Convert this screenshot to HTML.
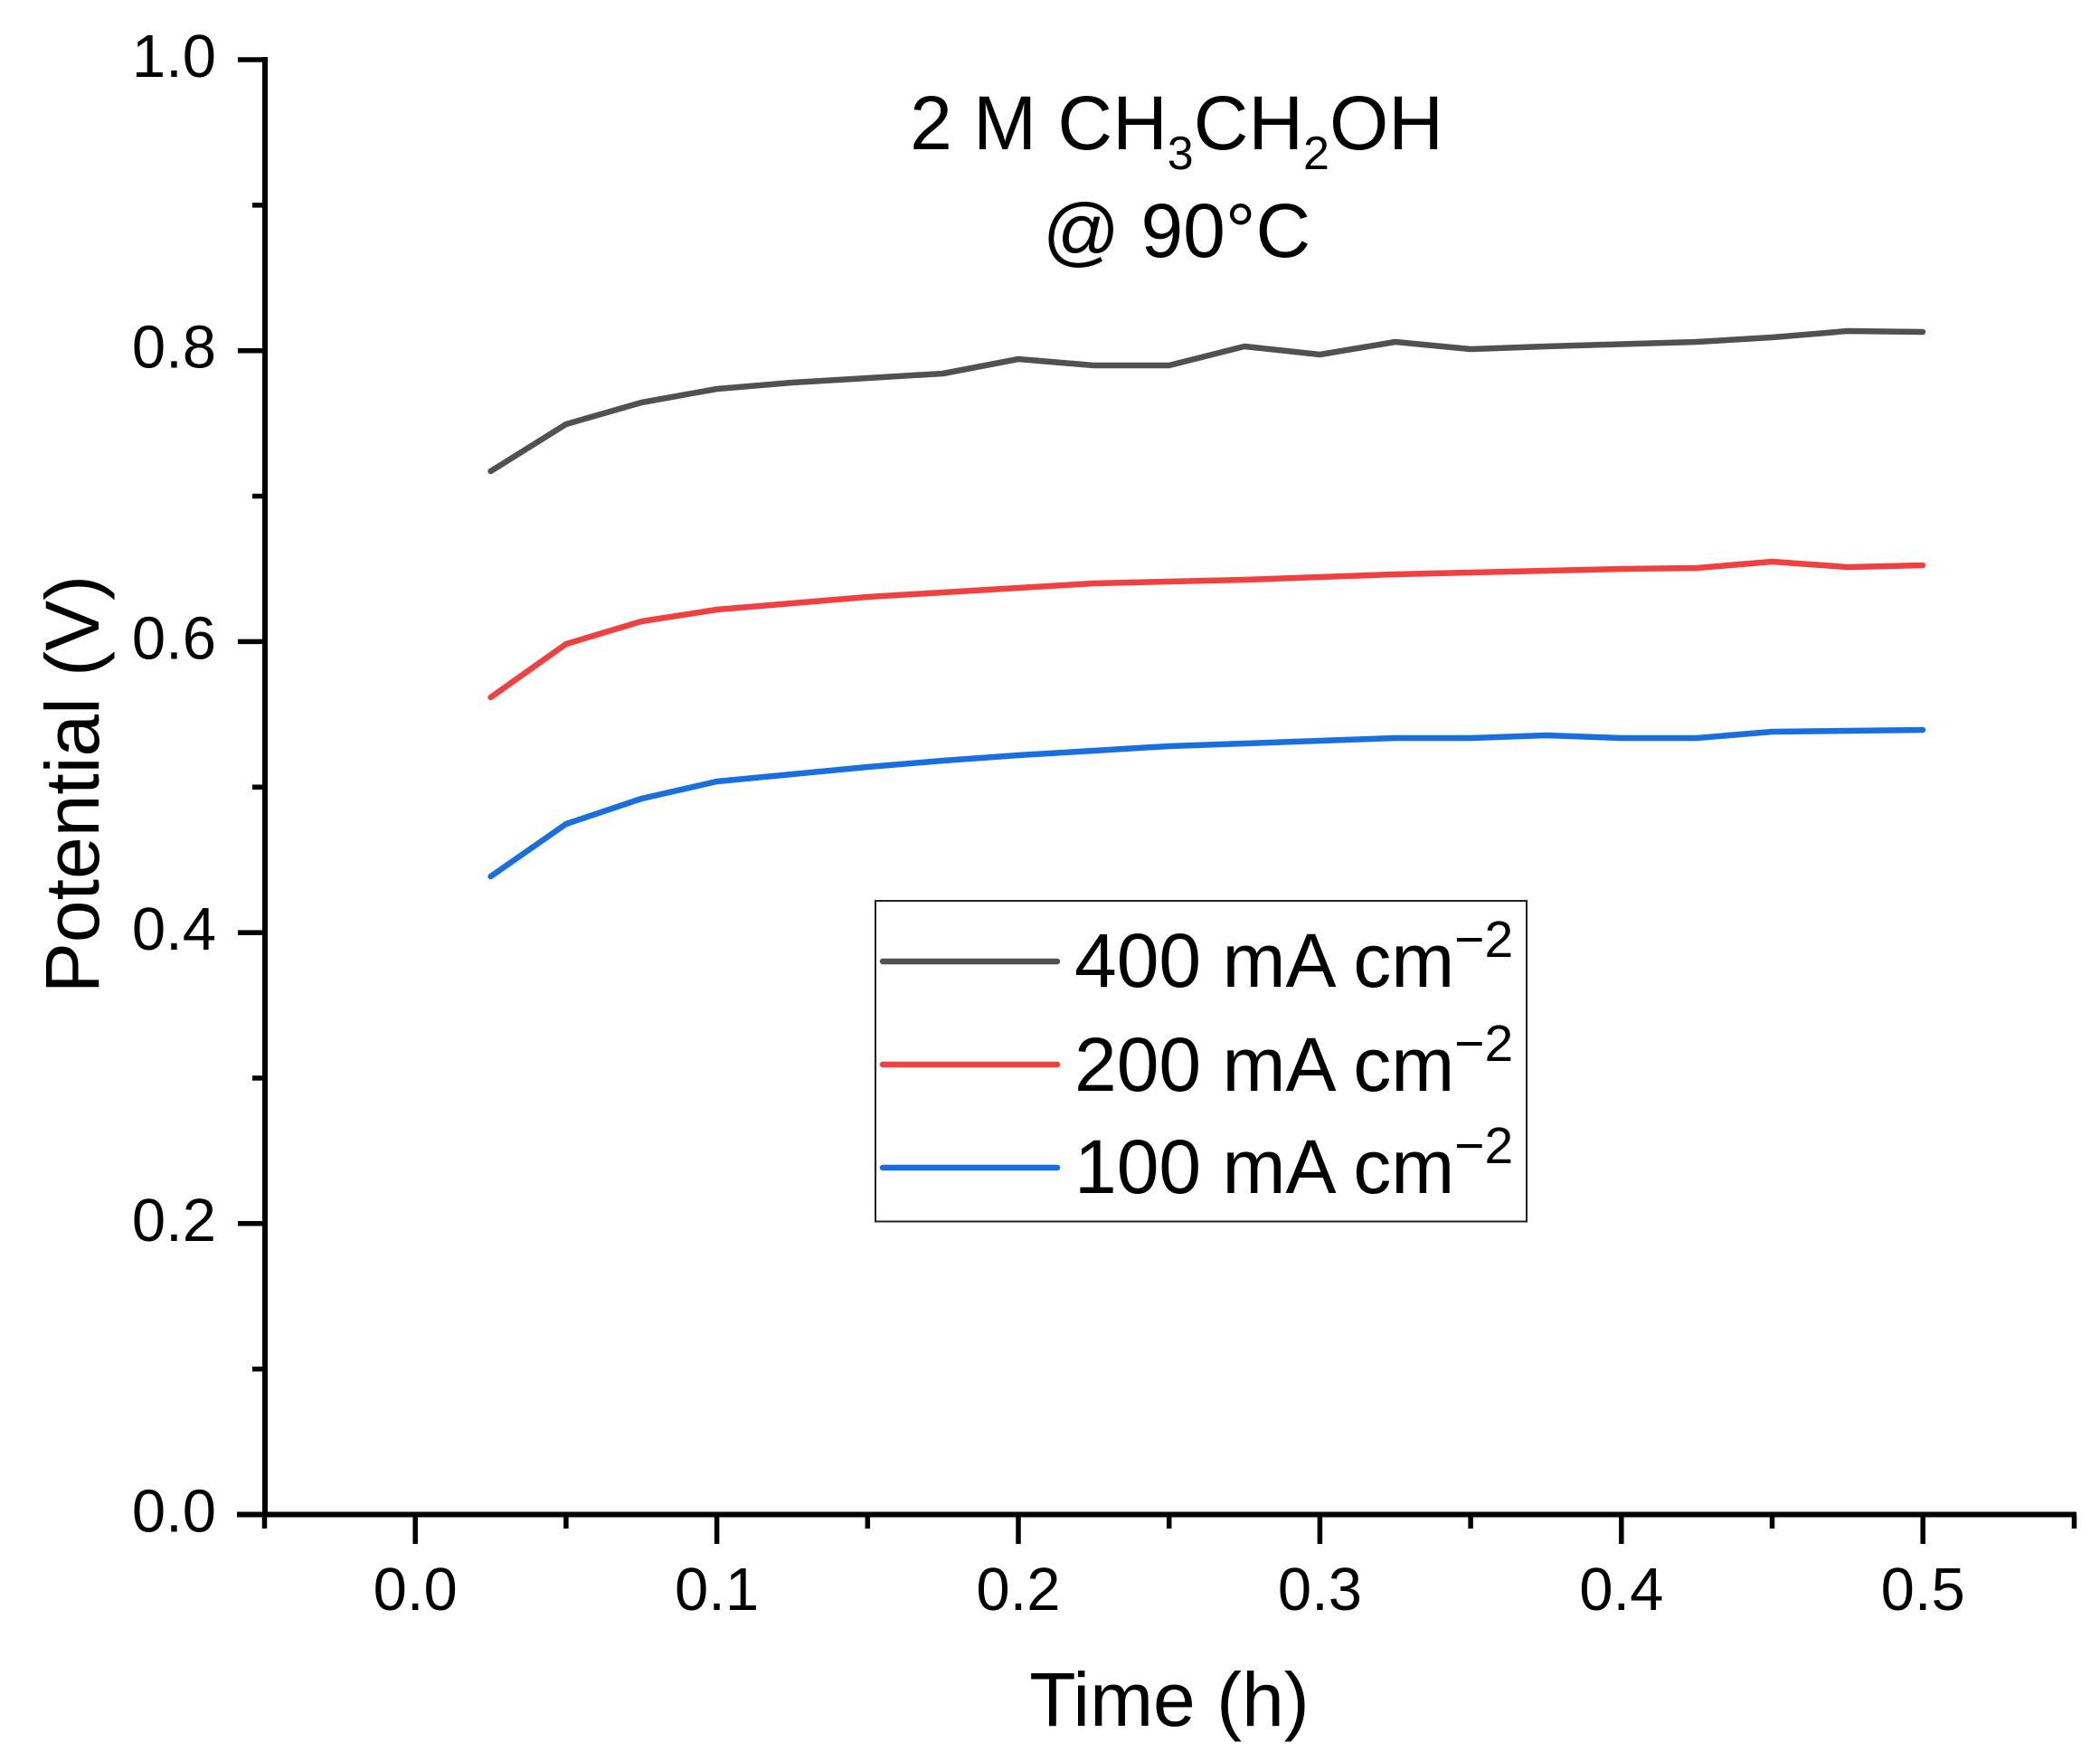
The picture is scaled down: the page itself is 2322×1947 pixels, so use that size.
<!DOCTYPE html>
<html>
<head>
<meta charset="utf-8">
<style>
  html, body { margin: 0; padding: 0; background: #ffffff; }
  svg { display: block; }
  text { font-family: "Liberation Sans", Arial, sans-serif; fill: #000; }
</style>
</head>
<body>
<svg xmlns="http://www.w3.org/2000/svg" width="2322" height="1947" viewBox="0 0 2322 1947">
  <rect x="0" y="0" width="2322" height="1947" fill="#ffffff"/>

  <!-- Axes -->
  <g stroke="#000" stroke-width="6" fill="none" stroke-linecap="butt">
    <line x1="293" y1="63" x2="293" y2="1677.5"/>
    <line x1="262" y1="1674.5" x2="2296" y2="1674.5"/>
  </g>
  <!-- Y ticks -->
  <g stroke="#000" stroke-width="5.5">
    <line x1="263" y1="1674.5" x2="293" y2="1674.5"/>
    <line x1="263" y1="1352.8" x2="293" y2="1352.8"/>
    <line x1="263" y1="1031.1" x2="293" y2="1031.1"/>
    <line x1="263" y1="709.4" x2="293" y2="709.4"/>
    <line x1="263" y1="387.7" x2="293" y2="387.7"/>
    <line x1="263" y1="66" x2="293" y2="66"/>
    <line x1="279" y1="1513.65" x2="293" y2="1513.65"/>
    <line x1="279" y1="1191.95" x2="293" y2="1191.95"/>
    <line x1="279" y1="870.25" x2="293" y2="870.25"/>
    <line x1="279" y1="548.55" x2="293" y2="548.55"/>
    <line x1="279" y1="226.85" x2="293" y2="226.85"/>
  </g>
  <!-- X ticks -->
  <g stroke="#000" stroke-width="5.5">
    <line x1="459.2" y1="1674.5" x2="459.2" y2="1707"/>
    <line x1="792.6" y1="1674.5" x2="792.6" y2="1707"/>
    <line x1="1126" y1="1674.5" x2="1126" y2="1707"/>
    <line x1="1459.4" y1="1674.5" x2="1459.4" y2="1707"/>
    <line x1="1792.8" y1="1674.5" x2="1792.8" y2="1707"/>
    <line x1="2126.2" y1="1674.5" x2="2126.2" y2="1707"/>
    <line x1="292.5" y1="1674.5" x2="292.5" y2="1690"/>
    <line x1="625.9" y1="1674.5" x2="625.9" y2="1690"/>
    <line x1="959.3" y1="1674.5" x2="959.3" y2="1690"/>
    <line x1="1292.7" y1="1674.5" x2="1292.7" y2="1690"/>
    <line x1="1626.1" y1="1674.5" x2="1626.1" y2="1690"/>
    <line x1="1959.5" y1="1674.5" x2="1959.5" y2="1690"/>
    <line x1="2293.5" y1="1674.5" x2="2293.5" y2="1690"/>
  </g>

  <!-- Y tick labels -->
  <g font-size="67" text-anchor="end">
    <text x="239" y="1693.5">0.0</text>
    <text x="239" y="1371.8">0.2</text>
    <text x="239" y="1050.1">0.4</text>
    <text x="239" y="728.4">0.6</text>
    <text x="239" y="406.7">0.8</text>
    <text x="239" y="85">1.0</text>
  </g>
  <!-- X tick labels -->
  <g font-size="67" text-anchor="middle">
    <text x="459.2" y="1780">0.0</text>
    <text x="792.6" y="1780">0.1</text>
    <text x="1126" y="1780">0.2</text>
    <text x="1459.4" y="1780">0.3</text>
    <text x="1792.8" y="1780">0.4</text>
    <text x="2126.2" y="1780">0.5</text>
  </g>

  <!-- Axis titles -->
  <text x="1293" y="1908" font-size="84" text-anchor="middle">Time (h)</text>
  <text transform="translate(109,867) rotate(-90)" font-size="84" text-anchor="middle">Potential (V)</text>

  <!-- Annotation -->
  <text x="1301" y="165" font-size="84" text-anchor="middle">2 M CH<tspan font-size="52" dy="22">3</tspan><tspan dy="-22">CH</tspan><tspan font-size="52" dy="22">2</tspan><tspan dy="-22">OH</tspan></text>
  <text x="1301" y="284" font-size="84" text-anchor="middle">@ 90°C</text>

  <!-- Series -->
  <g fill="none" stroke-width="6.5" stroke-linejoin="round" stroke-linecap="round">
    <polyline stroke="#515151" points="542.6,521 625.9,469 709.3,445 792.6,430 876,423 959.3,418 1042.7,413 1126,397 1209.4,404 1292.7,404 1376,383 1459.4,392 1542.8,378 1626,386 1709.5,383 1792.8,380.5 1876,378 1959.5,373 2043,366 2126,367"/>
    <polyline stroke="#F14040" points="542.6,771 625.9,712 709.3,687 792.6,674 876,667 959.3,660 1042.7,655 1126,650 1209.4,645 1292.7,643 1376,641 1459.4,638 1542.8,635 1626,633 1709.5,631 1792.8,629 1876,628 1959.5,621 2043,627 2126,625"/>
    <polyline stroke="#1A6FDF" points="542.6,969 625.9,911 709.3,883 792.6,864 876,856 959.3,848 1042.7,841 1126,835 1209.4,830 1292.7,825 1376,822 1459.4,819 1542.8,816 1626,816 1709.5,813 1792.8,816 1876,816 1959.5,809 2043,808 2126,807"/>
  </g>

  <!-- Legend -->
  <rect x="968" y="996" width="720" height="354.5" fill="#ffffff" stroke="#222" stroke-width="2"/>
  <g stroke-width="6.5" stroke-linecap="round">
    <line x1="976" y1="1063" x2="1169" y2="1063" stroke="#515151"/>
    <line x1="976" y1="1177" x2="1169" y2="1177" stroke="#F14040"/>
    <line x1="976" y1="1291" x2="1169" y2="1291" stroke="#1A6FDF"/>
  </g>
  <g font-size="84">
    <text x="1188" y="1091">400 mA cm<tspan font-size="57" dy="-33">−2</tspan></text>
    <text x="1188" y="1206">200 mA cm<tspan font-size="57" dy="-33">−2</tspan></text>
    <text x="1188" y="1319">100 mA cm<tspan font-size="57" dy="-33">−2</tspan></text>
  </g>
</svg>
</body>
</html>
